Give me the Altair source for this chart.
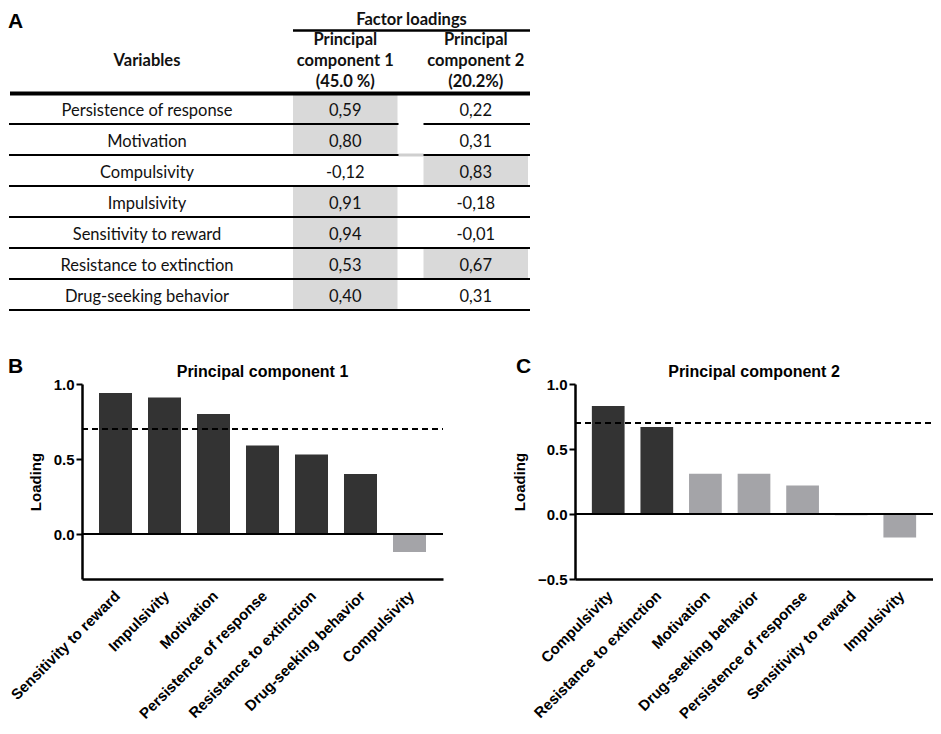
import altair as alt
import pandas as pd

# ---------------- data ----------------
variables = ["Persistence of response", "Motivation", "Compulsivity", "Impulsivity",
             "Sensitivity to reward", "Resistance to extinction", "Drug-seeking behavior"]
pc1 = [0.59, 0.80, -0.12, 0.91, 0.94, 0.53, 0.40]
pc2 = [0.22, 0.31, 0.83, -0.18, -0.01, 0.67, 0.31]
value_cols = ["pc1", "pc2"]
value_headers = ["Principal\ncomponent 1\n(45.0 %)", "Principal\ncomponent 2\n(20.2%)"]
var_header = "Variables"
group_header = "Factor loadings"
panel_titles = ["Principal component 1", "Principal component 2"]
panel_letters = ["A", "B", "C"]
y_title = "Loading"
cutoff = 0.7
strong_min = 0.4
pc1_domain = [-0.3, 1.0]
pc2_domain = [-0.5, 1.0]
pc1_ticks = [0.0, 0.5, 1.0]
pc2_ticks = [-0.5, 0.0, 0.5, 1.0]

# ---------------- style ----------------
DARK = "#333333"
LIGHT = "#a4a4a8"
SHADE = "#d9d9d9"
INK = "#111111"
TFONT = "Lato"
CFONT = "Liberation Sans"
TFS = 16.5
TW, TH = 448, 217          # table plot area
LEFT = -74                 # left edge of figure relative to plot areas
VAR_X = 65                 # centre of the variables column
PW1, PW2, PH = 361, 358, 195

one = pd.DataFrame({"k": [0]})


def fmt(v):
    return f"{v:.2f}".replace(".", ",")


cells = []
for i, name in enumerate(variables):
    for key, vals in zip(value_cols, [pc1, pc2]):
        v = vals[i]
        cells.append({"row": name, "col": key, "label": fmt(v), "shaded": bool(abs(v) >= strong_min)})
cells_df = pd.DataFrame(cells)
names_df = pd.DataFrame({"row": variables})
header_df = pd.DataFrame({"col": value_cols, "label": value_headers})
gap_df = pd.DataFrame({"row": variables[:2], "c": ["white", "#cfcfcf"]})

row_scale = alt.Scale(domain=variables, range=[0, TH], paddingInner=0, paddingOuter=0)
col_scale = alt.Scale(domain=value_cols, range=[211, 446], paddingInner=0.1992, paddingOuter=0)
Xc = alt.X("col:N", scale=col_scale, axis=None)
Yr = alt.Y("row:N", scale=row_scale, axis=None)

shade = alt.Chart(cells_df).transform_filter("datum.shaded").mark_rect(color=SHADE).encode(x=Xc, y=Yr)
vals_txt = alt.Chart(cells_df).mark_text(font=TFONT, fontSize=TFS, color=INK, dy=2).encode(
    x=Xc, y=Yr, text="label:N")
names_txt = alt.Chart(names_df).mark_text(font=TFONT, fontSize=TFS, color=INK, dy=2).encode(
    x=alt.value(VAR_X), y=Yr, text="row:N")
seps = alt.Chart(names_df).mark_rule(color="black", strokeWidth=2).encode(
    y=alt.Y("row:N", scale=row_scale, axis=None, bandPosition=1),
    x=alt.value(LEFT + 1), x2=alt.value(TW))
gaps = alt.Chart(gap_df).mark_rule(strokeWidth=3).encode(
    y=alt.Y("row:N", scale=row_scale, axis=None, bandPosition=1),
    x=alt.value(316.5), x2=alt.value(341.5), color=alt.Color("c:N", scale=None))
thick = alt.Chart(one).mark_rule(color="black", strokeWidth=4).encode(
    x=alt.value(LEFT + 2), x2=alt.value(TW), y=alt.value(0.5))
hdr = alt.Chart(header_df).mark_text(font=TFONT, fontSize=TFS, fontWeight="bold", lineBreak="\n",
                                     lineHeight=21, baseline="alphabetic", color=INK).encode(
    x=Xc, y=alt.value(-48), text="label:N")
var_hdr = alt.Chart(one).mark_text(font=TFONT, fontSize=TFS, fontWeight="bold", baseline="alphabetic",
                                   color=INK).encode(x=alt.value(VAR_X), y=alt.value(-27),
                                                     text=alt.value(var_header))
grp_hdr = alt.Chart(one).mark_text(font=TFONT, fontSize=TFS, fontWeight="bold", baseline="alphabetic",
                                   color=INK).encode(x=alt.value(329.5), y=alt.value(-68),
                                                     text=alt.value(group_header))
grp_line = alt.Chart(one).mark_rule(color="black", strokeWidth=2.5).encode(
    x=alt.value(211), x2=alt.value(TW), y=alt.value(-62.5))
letter_a = alt.Chart(one).mark_text(font=CFONT, fontSize=21, fontWeight="bold", align="left",
                                    baseline="alphabetic", color="black").encode(
    x=alt.value(LEFT), y=alt.value(-65.5), text=alt.value(panel_letters[0]))

table = alt.layer(shade, seps, gaps, thick, vals_txt, names_txt, hdr, var_hdr, grp_hdr, grp_line,
                  letter_a).properties(width=TW, height=TH)


def panel(values, domain, ticks, title, letter, width, letter_x, letter_y):
    order = [variables[i] for i in sorted(range(len(variables)), key=lambda i: -values[i])]
    df = pd.DataFrame({"variable": variables, "loading": values,
                       "strength": ["strong" if abs(v) >= strong_min else "weak" for v in values]})
    x = alt.X("variable:N", sort=order,
              scale=alt.Scale(paddingInner=0.3265, paddingOuter=0.347),
              axis=alt.Axis(title=None, labelAngle=-45, labelAlign="right", labelBaseline="middle",
                            ticks=False, labelPadding=14, labelOffset=2, labelFont=CFONT,
                            labelFontSize=15, labelFontWeight="bold", labelColor="black",
                            domainColor="black", domainWidth=2.5, labelLimit=0,
                            labelOverlap=False))
    y = alt.Y("loading:Q", scale=alt.Scale(domain=domain, nice=False),
              axis=alt.Axis(values=ticks, format=".1f", title=y_title, titleFont=CFONT,
                            titleFontSize=15, titleFontWeight="bold", titleColor="black",
                            titlePadding=10, labelFont=CFONT, labelFontSize=15,
                            labelFontWeight="bold", labelColor="black", labelPadding=2,
                            tickColor="black", tickWidth=2, tickSize=6, domainColor="black",
                            domainWidth=2.5, grid=False))
    bars = alt.Chart(df).mark_bar().encode(
        x=x, y=y,
        color=alt.Color("strength:N", scale=alt.Scale(domain=["strong", "weak"], range=[DARK, LIGHT]),
                        legend=None))
    zero = alt.Chart(one).mark_rule(color="black", strokeWidth=2.2).encode(
        y=alt.datum(0), x=alt.value(0), x2=alt.value(width))
    cut = alt.Chart(one).mark_rule(color="black", strokeWidth=2, strokeDash=[6, 4]).encode(
        y=alt.datum(cutoff), x=alt.value(0), x2=alt.value(width))
    ttl = alt.Chart(one).mark_text(font=CFONT, fontSize=16, fontWeight="bold", baseline="alphabetic",
                                   color="black").encode(
        x=alt.value(width / 2), y=alt.value(-7), text=alt.value(title))
    lett = alt.Chart(one).mark_text(font=CFONT, fontSize=21, fontWeight="bold", align="left",
                                    baseline="alphabetic", color="black").encode(
        x=alt.value(letter_x), y=alt.value(letter_y), text=alt.value(letter))
    return alt.layer(bars, zero, cut, ttl, lett).properties(width=width, height=PH)


pB = panel(pc1, pc1_domain, pc1_ticks, panel_titles[0], panel_letters[1], PW1, LEFT, -11)
pC = panel(pc2, pc2_domain, pc2_ticks, panel_titles[1], panel_letters[2], PW2, -59, -11)

bottom = alt.hconcat(pB, pC, spacing=132, bounds="flush")
chart = alt.vconcat(table, bottom, spacing=74, bounds="flush").properties(
    autosize=alt.AutoSizeParams(type="none"),
    padding={"left": 74, "top": 85, "right": 851, "bottom": 641},
).configure_view(stroke=None)

chart.save("out.html", embed_options={"renderer": "svg", "actions": False})
